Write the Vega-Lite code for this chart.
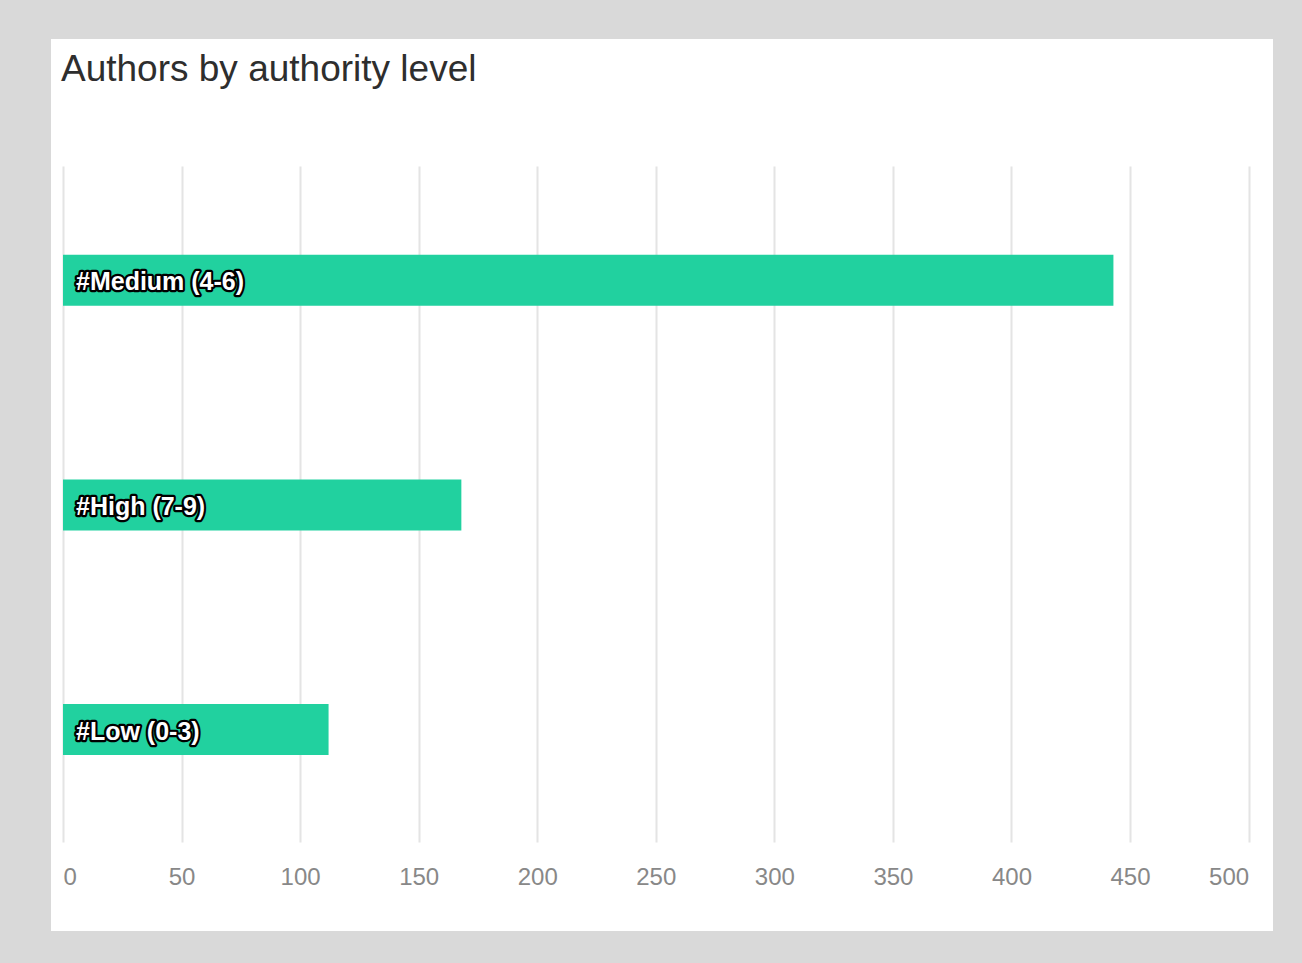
{
  "$schema": "https://vega.github.io/schema/vega-lite/v6.json",
  "width": 1222,
  "height": 892,
  "autosize": {"type": "none"},
  "padding": {"left": 51, "top": 39, "right": 29, "bottom": 32},
  "background": "#d9d9d9",
  "config": {"view": {"fill": "#ffffff", "stroke": null}},
  "title": {
    "text": "Authors by authority level",
    "anchor": "start",
    "frame": "group",
    "dx": 10,
    "offset": -79,
    "baseline": "alphabetic",
    "fontSize": 37,
    "font": "Liberation Sans",
    "fontWeight": "normal",
    "color": "#2e2e2e"
  },
  "data": {
    "values": [
      {"level": "#Medium (4-6)", "authors": 443},
      {"level": "#High (7-9)", "authors": 168},
      {"level": "#Low (0-3)", "authors": 112}
    ]
  },
  "encoding": {
    "y": {
      "field": "level",
      "type": "nominal",
      "sort": null,
      "axis": null,
      "scale": {"paddingInner": 0.773, "paddingOuter": 0.872, "align": 0.551}
    }
  },
  "layer": [
    {
      "mark": {"type": "bar", "color": "#21d19f"},
      "encoding": {
        "x": {
          "field": "authors",
          "type": "quantitative",
          "scale": {"domain": [-5.06, 510.3], "nice": false, "zero": false},
          "axis": {
            "values": [0, 50, 100, 150, 200, 250, 300, 350, 400, 450, 500],
            "orient": "bottom",
            "offset": -89,
            "domain": false,
            "grid": false,
            "ticks": true,
            "tickSize": -676,
            "tickColor": "#e4e4e4",
            "tickWidth": 2,
            "labelPadding": 711,
            "labelFontSize": 24,
            "labelFont": "Liberation Sans",
            "labelColor": "#888888",
            "labelFlush": 25,
            "labelBaseline": "middle",
            "title": null,
            "zindex": 0
          }
        },
        "x2": {"datum": 0}
      }
    },
    {
      "mark": {
        "type": "text",
        "align": "left",
        "baseline": "middle",
        "dx": 13,
        "dy": 2,
        "fontSize": 25,
        "fontWeight": "bold",
        "font": "Liberation Sans",
        "fill": "#000000",
        "stroke": "#000000",
        "strokeWidth": 4.5,
        "strokeJoin": "round"
      },
      "encoding": {"x": {"datum": 0}, "text": {"field": "level"}}
    },
    {
      "mark": {
        "type": "text",
        "align": "left",
        "baseline": "middle",
        "dx": 13,
        "dy": 2,
        "fontSize": 25,
        "fontWeight": "bold",
        "font": "Liberation Sans",
        "fill": "#ffffff"
      },
      "encoding": {"x": {"datum": 0}, "text": {"field": "level"}}
    }
  ]
}
